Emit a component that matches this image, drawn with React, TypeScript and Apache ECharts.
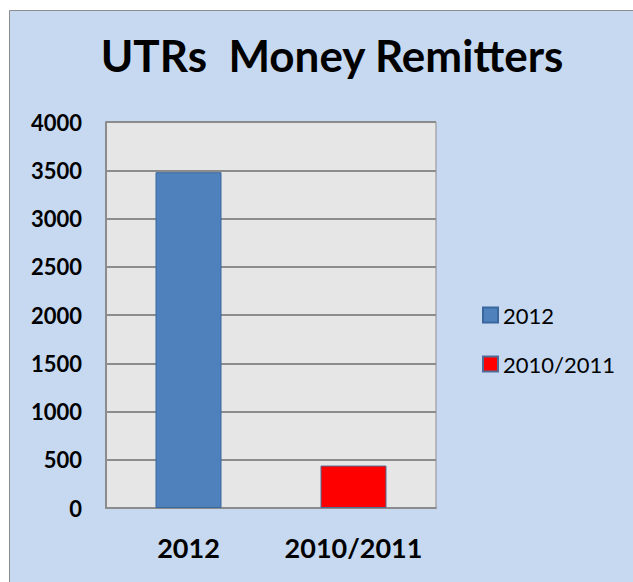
import React, { useEffect, useRef } from "react";
import * as echarts from "echarts";

const categories = ["2012", "2010/2011"];
const seriesNames = ["2012", "2010/2011"];
const values2012 = [3480, null];
const values2010 = [null, 440];
const yTicks = { min: 0, max: 4000, interval: 500 };

const FONT = "Lato";

export default function App() {
  const ref = useRef<HTMLDivElement>(null);
  useEffect(() => {
    const chart = echarts.init(ref.current!, null, { renderer: "svg" });
    chart.setOption({
      animation: false,
      backgroundColor: "#ffffff",
      graphic: [
        {
          type: "rect",
          z: -10,
          silent: true,
          shape: { x: 9.5, y: 10.5, width: 640, height: 600 },
          style: { fill: "#C6D9F1", stroke: "#8C8C8C", lineWidth: 1 },
        },
      ],
      title: {
        text: "UTRs  Money Remitters",
        left: 327,
        textAlign: "center",
        top: 28,
        textStyle: { fontFamily: FONT, fontSize: 44, fontWeight: "bold", color: "#000" },
      },
      legend: {
        orient: "vertical",
        left: 477,
        top: 299,
        itemWidth: 15,
        itemHeight: 15,
        itemGap: 27,
        icon: "rect",
        data: seriesNames,
        textStyle: {
          fontFamily: FONT,
          fontSize: 22,
          lineHeight: 22,
          color: "#000",
          padding: [0, 0, 0, 0],
        },
      },
      grid: {
        left: 106,
        top: 122,
        width: 330,
        height: 386,
        show: true,
        backgroundColor: "#E6E6E6",
        borderColor: "#8C8C8C",
        borderWidth: 1,
      },
      xAxis: {
        type: "category",
        data: categories,
        axisLine: { lineStyle: { color: "#8C8C8C", width: 2 } },
        axisTick: { show: false },
        axisLabel: {
          interval: 0,
          fontFamily: FONT,
          fontSize: 27,
          fontWeight: "bold",
          color: "#000",
          margin: 26,
        },
      },
      yAxis: {
        type: "value",
        min: yTicks.min,
        max: yTicks.max,
        interval: yTicks.interval,
        axisLine: { show: true, lineStyle: { color: "#8C8C8C", width: 2 } },
        axisTick: { show: false },
        splitLine: { lineStyle: { color: "#8C8C8C", width: 2 } },
        axisLabel: {
          fontFamily: FONT,
          fontSize: 22,
          fontWeight: "bold",
          color: "#000",
          margin: 24,
          formatter: (v: number) => String(v),
        },
      },
      series: [
        {
          name: seriesNames[0],
          type: "bar",
          stack: "s",
          data: values2012,
          barWidth: 66,
          itemStyle: { color: "#4F81BD", borderColor: "#3A679E", borderWidth: 1 },
        },
        {
          name: seriesNames[1],
          type: "bar",
          stack: "s",
          data: values2010,
          barWidth: 66,
          itemStyle: { color: "#FF0000", borderColor: "#4F6D96", borderWidth: 1 },
        },
      ],
    });
    return () => chart.dispose();
  }, []);
  return (
    <div
      ref={ref}
      style={{ position: "fixed", left: 0, top: 0, width: 633, height: 582 }}
    />
  );
}
